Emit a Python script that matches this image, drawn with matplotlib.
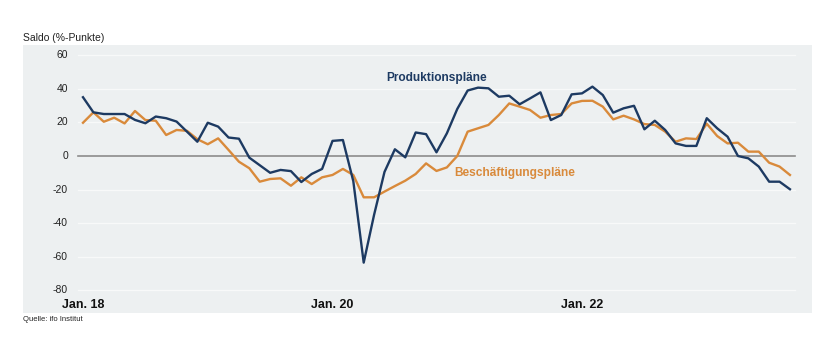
import numpy as np
import matplotlib.pyplot as plt

plt.rcParams['font.family'] = ['Liberation Sans', 'DejaVu Sans']

# Monthly balances Jan. 2018 - Sep. 2023 (%-points)
produktion = [35, 26, 25, 25, 25, 21.5, 19.5, 23.5, 22.5, 20.5, 14.5, 8.5,
              19.8, 17.5, 11, 10.3, -1, -5.5, -10, -8.3, -9, -15.5, -10.7, -7.7,
              9, 9.5, -15, -63.5, -35, -9.5, 4, -0.8, 14, 13, 2.2, 13.5,
              28, 39, 40.7, 40.3, 35.3, 35.9, 30.8, 34.3, 37.9, 21.4, 24.4, 36.7,
              37.3, 41.3, 36.3, 25.8, 28.4, 29.9, 15.9, 21, 15.5, 7.5, 6, 6,
              22.5, 16.5, 11.5, 0, -1.4, -6.3, -15.3, -15.3, -19.8]
beschaeftigung = [19.8, 26, 20.4, 22.8, 19.4, 26.8, 21.4, 21, 12.5, 15.5, 15, 10,
                  7, 10.5, 3.6, -3.4, -7.3, -15.3, -13.7, -13.3, -17.7, -12.7, -16.7, -12.7,
                  -11.3, -7.7, -11.3, -24.6, -24.6, -21.2, -17.9, -14.7, -10.7, -4.4, -8.9, -6.8,
                  0, 14.5, 16.5, 18.5, 24.4, 31.3, 29.4, 27.4, 22.8, 24.4, 25, 31.3,
                  32.8, 32.9, 29.4, 21.8, 24, 21.8, 19, 18.5, 14.5, 8.5, 10.5, 10.1,
                  19.2, 11.9, 7.5, 7.9, 2.6, 2.6, -4, -6.3, -11.3]
months = np.arange(len(produktion))
yticks = [60, 40, 20, 0, -20, -40, -60, -80]
xtick_pos = [0, 24, 48]
xtick_labels = ['Jan. 18', 'Jan. 20', 'Jan. 22']

blue = '#1d3a62'
orange = '#d98a3b'

fig = plt.figure(figsize=(8.4, 3.58), dpi=100)
ax = fig.add_axes([0.0274, 0.1257, 0.939, 0.7486])
ax.set_facecolor('#edf0f1')
ax.set_xlim(-5.77, 70.1)
ax.set_ylim(-93.5, 66.1)
for s in ax.spines.values():
    s.set_visible(False)
ax.set_xticks([])
ax.set_yticks([])

# grid lines and y labels drawn inside the panel
for y in yticks:
    if y == 0:
        ax.plot([-0.5, 68.5], [0, 0], color='#8c8c8c', lw=1.2, zorder=2)
    else:
        ax.plot([-0.5, 68.5], [y, y], color='#f8f9f9', lw=0.9, zorder=1)
    ax.text(-1.45, y, str(y), ha='right', va='center', fontsize=7.5,
            color='#222222')

for pos, lab in zip(xtick_pos, xtick_labels):
    ax.text(pos, -88.7, lab, ha='center', va='center', fontsize=9,
            fontweight='bold', color='#111111')

ax.plot(months, beschaeftigung, color=orange, lw=1.7, zorder=3)
ax.plot(months, produktion, color=blue, lw=1.7, zorder=4)

ax.text(34.0, 46.4, 'Produktionspläne', ha='center', va='center',
        fontsize=8.6, fontweight='bold', color=blue)
ax.text(41.5, -10.1, 'Beschäftigungspläne', ha='center', va='center',
        fontsize=8.6, fontweight='bold', color=orange)

fig.text(0.0274, 0.893, 'Saldo (%-Punkte)', ha='left', va='center',
         fontsize=7.5, color='#222222')
fig.text(0.0274, 0.108, 'Quelle: ifo Institut', ha='left', va='center',
         fontsize=5.5, color='#222222')

fig.savefig('out.png', dpi=100, facecolor='white')
